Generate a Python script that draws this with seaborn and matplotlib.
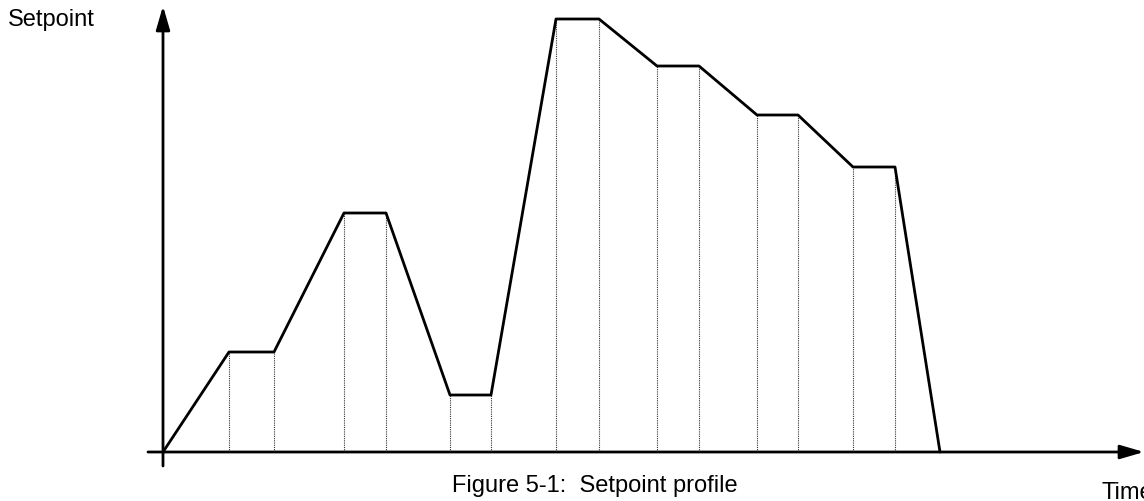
import matplotlib
matplotlib.use("Agg")
import matplotlib.pyplot as plt
import seaborn as sns
import pandas as pd

# Data (arbitrary units, origin at axes crossing)
time = [0, 66, 111, 181, 223, 287, 328, 393, 436, 494, 536, 594, 635, 690, 732, 777]
setpoint = [0, 100, 100, 239, 239, 57, 57, 433, 433, 386, 386, 337, 337, 285, 285, 0]
xlabel_text = "Time"
ylabel_text = "Setpoint"
caption_text = "Figure 5-1:  Setpoint profile"

sns.set_theme(style="white")
plt.rcParams['font.family'] = ['Liberation Sans', 'DejaVu Sans']
plt.rcParams['text.color'] = 'black'

fig = plt.figure(figsize=(11.44, 5.02), dpi=100)
ax = fig.add_axes([0, 0, 1, 1])
ax.set_xlim(-163, 981)
ax.set_ylim(-49, 453)
ax.axis("off")

df = pd.DataFrame({"time": time, "setpoint": setpoint})

# dotted verticals at interior corners
ax.vlines(time[1:-1], 0, setpoint[1:-1], colors="#333333", linestyles=(0, (1, 1)), linewidth=0.8)

sns.lineplot(data=df, x="time", y="setpoint", ax=ax, color="black", linewidth=2, sort=False)

# axes with arrows
ax.annotate("", xy=(981, 0), xytext=(-15, 0),
            arrowprops=dict(arrowstyle="-|>,head_length=1.2,head_width=0.35", color="black", lw=2, shrinkA=0, shrinkB=0))
ax.annotate("", xy=(0, 446), xytext=(0, -14),
            arrowprops=dict(arrowstyle="-|>,head_length=1.2,head_width=0.35", color="black", lw=2, shrinkA=0, shrinkB=0))

ax.set_xlabel("")
ax.set_ylabel("")
fs = 17
fig.text(8 / 1144, 1 - 26 / 502, ylabel_text, fontsize=fs, va="baseline", ha="left", color="black")
fig.text(1102 / 1144, 1 - 499 / 502, xlabel_text, fontsize=fs, va="baseline", ha="left", color="black")
fig.text(452 / 1144, 1 - 492 / 502, caption_text, fontsize=fs, va="baseline", ha="left", color="black")

fig.savefig("out.png", dpi=100)
